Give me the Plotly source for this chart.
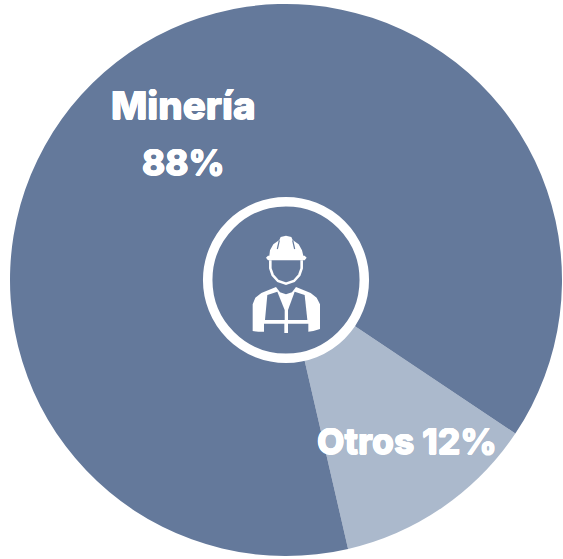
import plotly.graph_objects as go

labels = ["Otros", "Minería"]
values = [12, 88]
colors = ["#ABB9CC", "#64799B"]
W, H = 563, 559
DARK = "#64799B"

def X(p): return p / W
def Y(p): return 1 - p / H

def zpath(pts, close=True):
    # points in icon-crop coordinates (3x zoom of the region starting at 190,185)
    out = []
    for i, (x, y) in enumerate(pts):
        out.append(("M" if i == 0 else "L") + f"{X(190 + x / 3):.5f},{Y(185 + y / 3):.5f}")
    return " ".join(out) + (" Z" if close else "")

fig = go.Figure(go.Pie(
    labels=labels, values=values, sort=False, direction="clockwise", rotation=123.8,
    marker=dict(colors=colors, line=dict(width=0)), textinfo="none", hoverinfo="label+percent",
    showlegend=False, domain=dict(x=[X(10), X(562)], y=[Y(556), Y(4)]),
))

shapes = [dict(type="circle", xref="paper", yref="paper",
               x0=X(207.7), x1=X(364.3), y0=Y(358.3), y1=Y(201.7),
               fillcolor=DARK, line=dict(color="white", width=9.5))]

def white(pts):
    shapes.append(dict(type="path", xref="paper", yref="paper", path=zpath(pts), fillcolor="white", line=dict(width=0)))
def dark(pts):
    shapes.append(dict(type="path", xref="paper", yref="paper", path=zpath(pts), fillcolor=DARK, line=dict(width=0)))
def stroke(pts, color="white", w=2.6):
    shapes.append(dict(type="path", xref="paper", yref="paper", path=zpath(pts, False), line=dict(color=color, width=w)))

# helmet
white([(228,218),(234,212),(238,212),(240,196),(250,178),(268,165),(272,156),(288,152),(304,156),(308,165),(326,178),(336,196),(340,212),(344,212),(350,218),(344,226),(234,226)])
stroke([(268,166),(262,192)], DARK, 1.2)
stroke([(308,166),(314,192)], DARK, 1.2)
# face
stroke([(241,226),(241,250),(248,270),(264,288),(288,296),(312,288),(328,270),(335,250),(335,226)])
# body
white([(188,438),(188,358),(196,338),(214,324),(258,306),(270,322),(288,328),(306,322),(318,306),(362,324),(380,338),(390,358),(390,432),(370,438),(355,440),(355,416),(294,416),(294,444),(283,444),(283,416),(222,416),(222,440),(205,440)])
dark([(232,330),(262,320),(284,375),(284,405),(225,405)])
dark([(344,330),(314,320),(294,375),(294,405),(352,405)])

def note(text, cx, cy, size):
    return dict(text=text, x=X(cx), y=Y(cy), xref="paper", yref="paper", showarrow=False,
                xanchor="center", yanchor="middle",
                font=dict(family="Inter", size=size, color="white", weight=800,
                          shadow="0.5px 0 0 white, -0.5px 0 0 white, 0 0.5px 0 white, 0 -0.5px 0 white"))

fig.update_layout(
    width=W, height=H, margin=dict(l=0, r=0, t=0, b=0), paper_bgcolor="white", shapes=shapes,
    annotations=[note("Minería", 183.5, 105.5, 38.5), note("88%", 183.5, 162, 35), note("Otros 12%", 407, 441, 35.5)],
)
fig.write_html("out.html", config=dict(displayModeBar=False),
               post_script="document.body.style.margin='0';document.body.style.overflow='hidden';")
